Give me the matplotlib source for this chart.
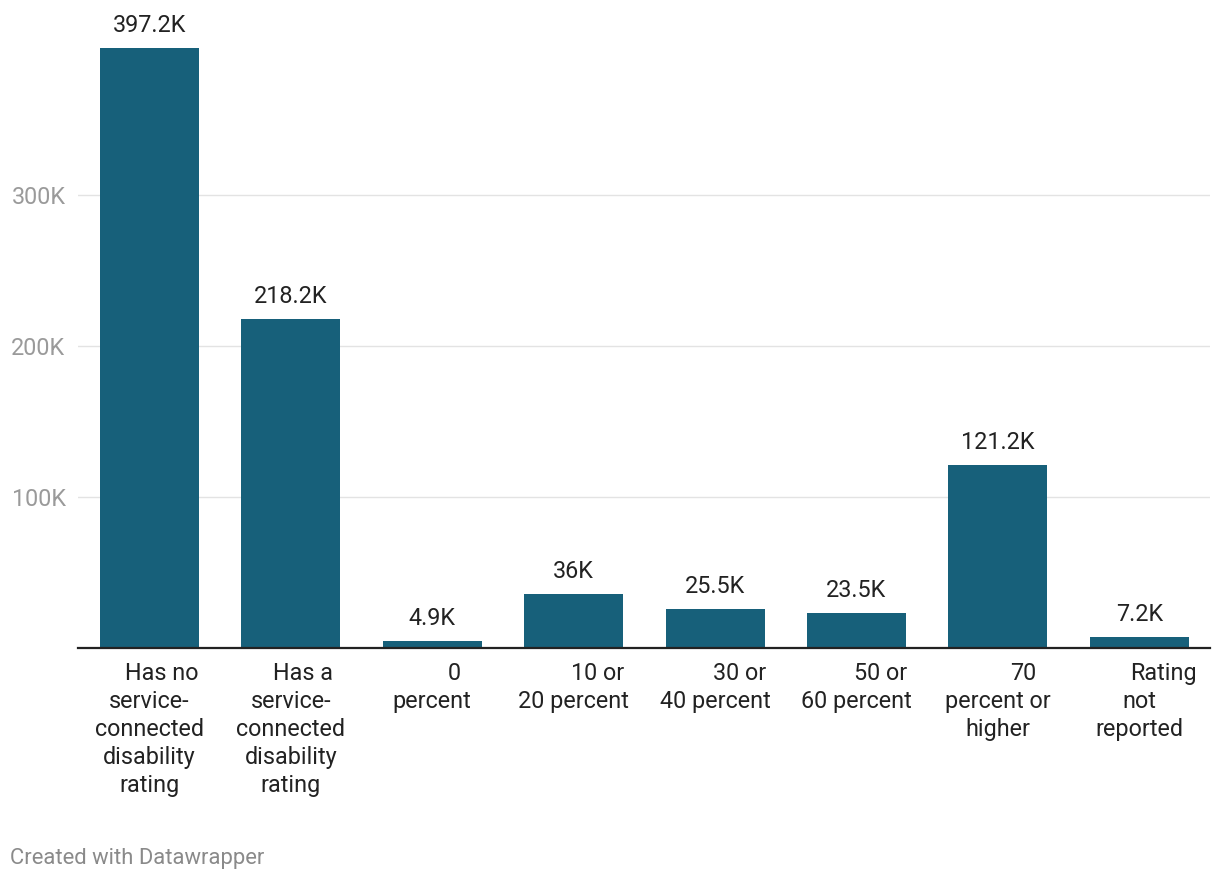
import matplotlib.pyplot as plt

plt.rcParams["font.family"] = ["Roboto", "DejaVu Sans"]

categories = [
    ["Has no", "service-", "connected", "disability", "rating"],
    ["Has a", "service-", "connected", "disability", "rating"],
    ["0", "percent"],
    ["10 or", "20 percent"],
    ["30 or", "40 percent"],
    ["50 or", "60 percent"],
    ["70", "percent or", "higher"],
    ["Rating", "not", "reported"],
]
values = [397.2, 218.2, 4.9, 36, 25.5, 23.5, 121.2, 7.2]  # thousands
yticks = [100, 200, 300]
ytick_labels = ["100K", "200K", "300K"]

# datawrapper nudges the first line of each label to the right
first_line_shift = [12, 12, 22, 24, 25, 24, 25, 24]

bar_color = "#17607a"
fs = 16.8

fig = plt.figure(figsize=(12.2, 8.8), dpi=100)
ax = fig.add_axes([78 / 1220, 1 - 648 / 880, (1210 - 78) / 1220, (648 - 44) / 880])

x = list(range(len(values)))
ax.bar(x, values, width=0.7, color=bar_color, zorder=2)

ax.set_xlim(-0.505, 7.5)
ax.set_ylim(0, 400)

ax.set_yticks(yticks)
ax.set_yticklabels(ytick_labels, color="#9a9a9a", fontsize=fs)
ax.tick_params(axis="y", length=0, pad=9)
ax.set_xticks([])
ax.grid(axis="y", color="#e3e3e3", linewidth=1, zorder=0)

for s in ["top", "right", "left"]:
    ax.spines[s].set_visible(False)
ax.spines["bottom"].set_color("#222222")
ax.spines["bottom"].set_linewidth(1.6)
ax.spines["bottom"].set_zorder(3)

for i, v in enumerate(values):
    ax.annotate(f"{v:g}K", xy=(i, v), xytext=(0, 11), textcoords="offset pixels",
                ha="center", va="bottom", fontsize=fs, color="#222222")

for i, lines in enumerate(categories):
    for j, line in enumerate(lines):
        dx = first_line_shift[i] if j == 0 else 0
        ax.annotate(line, xy=(i, 0), xytext=(dx, -32 - 28 * j), textcoords="offset pixels",
                    ha="center", va="baseline", fontsize=fs, color="#222222",
                    annotation_clip=False)

fig.text(10 / 1220, 1 - 864 / 880, "Created with Datawrapper", fontsize=15.8,
         color="#8a8a8a", ha="left", va="baseline")

fig.savefig("out.png", dpi=100)
